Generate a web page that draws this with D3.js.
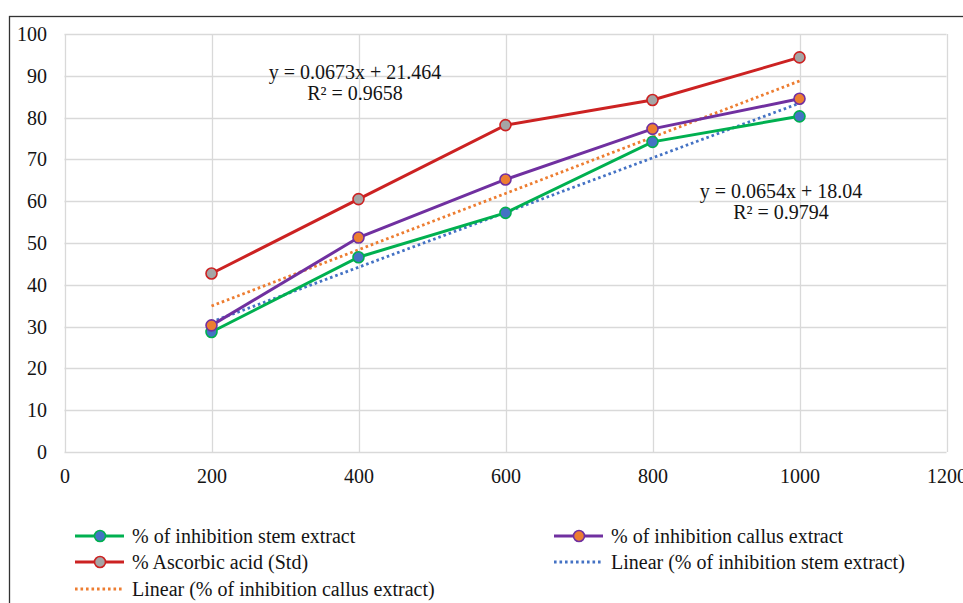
<!DOCTYPE html>
<html>
<head>
<meta charset="utf-8">
<script src="https://cdn.jsdelivr.net/npm/d3@7"></script>
<style>
  body { margin: 0; background: #fff; }
  svg { font-family: "Liberation Serif", "Times New Roman", serif; }
</style>
</head>
<body>
<figure style="margin:0"></figure>
<script>
const width = 963
const height = 603

// data
const concentrations = [200, 400, 600, 800, 1000]
const stemValues = [28.7, 46.6, 57.2, 74.2, 80.3]
const callusValues = [30.3, 51.3, 65.2, 77.3, 84.5]
const ascorbicValues = [42.7, 60.5, 78.2, 84.2, 94.4]
const xTicks = [0, 200, 400, 600, 800, 1000, 1200]
const yTicks = [0, 10, 20, 30, 40, 50, 60, 70, 80, 90, 100]
const stemFit = { slope: 0.0654, intercept: 18.04, label: 'y = 0.0654x + 18.04', r2: 'R² = 0.9794' }
const callusFit = { slope: 0.0673, intercept: 21.464, label: 'y = 0.0673x + 21.464', r2: 'R² = 0.9658' }

const fontSize = 20
const textColor = '#141414'

const svg = d3.select('figure').append('svg')
  .attr('width', width)
  .attr('height', height)

// outer frame (only top and left edges are inside the picture)
svg.append('rect')
  .attr('x', 9.5).attr('y', 16.5)
  .attr('width', 1000).attr('height', 700)
  .attr('fill', 'none')
  .attr('stroke', '#333')
  .attr('stroke-width', 1.3)

const x = d3.scaleLinear().domain([0, 1200]).range([64.5, 946.5])
const y = d3.scaleLinear().domain([0, 100]).range([452, 34])

// grid
svg.append('g').selectAll('line').data(yTicks).join('line')
  .attr('x1', x(0)).attr('x2', x(1200))
  .attr('y1', d => Math.round(y(d)) + 0.5).attr('y2', d => Math.round(y(d)) + 0.5)
  .attr('stroke', '#d9d9d9').attr('stroke-width', 1.3)
svg.append('g').selectAll('line').data(xTicks).join('line')
  .attr('x1', d => Math.round(x(d)) + 0.5).attr('x2', d => Math.round(x(d)) + 0.5)
  .attr('y1', y(0)).attr('y2', y(100))
  .attr('stroke', '#d9d9d9').attr('stroke-width', 1.3)

// axes labels
const yAxis = svg.append('g')
  .attr('transform', `translate(${x(0) - 17.5},0)`)
  .call(d3.axisLeft(y).tickValues(yTicks).tickFormat(d3.format('d')).tickSize(0).tickPadding(0))
  .attr('font-family', 'Liberation Serif').attr('font-size', fontSize)
yAxis.select('.domain').remove()
yAxis.selectAll('text').attr('fill', textColor)

const xAxis = svg.append('g')
  .attr('transform', `translate(0,${y(0) + 17})`)
  .call(d3.axisBottom(x).tickValues(xTicks).tickFormat(d3.format('d')).tickSize(0).tickPadding(0))
  .attr('font-family', 'Liberation Serif').attr('font-size', fontSize)
xAxis.select('.domain').remove()
xAxis.selectAll('text').attr('fill', textColor)

// trendlines
const trends = [
  { fit: stemFit, color: '#4472c4' },
  { fit: callusFit, color: '#ed7d31' }
]
svg.selectAll('.trend').data(trends).join('line')
  .attr('class', 'trend')
  .attr('x1', x(concentrations[0]))
  .attr('x2', x(concentrations[concentrations.length - 1]))
  .attr('y1', d => y(d.fit.slope * concentrations[0] + d.fit.intercept))
  .attr('y2', d => y(d.fit.slope * concentrations[concentrations.length - 1] + d.fit.intercept))
  .attr('stroke', d => d.color)
  .attr('stroke-width', 2.8)
  .attr('stroke-dasharray', '2.6,2.9')

// series
const series = [
  { name: '% of inhibition stem extract', values: stemValues, line: '#00b050', fill: '#4472c4' },
  { name: '% of inhibition callus extract', values: callusValues, line: '#7030a0', fill: '#ed7d31' },
  { name: '% Ascorbic acid (Std)', values: ascorbicValues, line: '#cc2222', fill: '#a5a5a5' }
]
const line = d3.line()
  .x((d, i) => x(concentrations[i]))
  .y(d => y(d))

svg.selectAll('.series').data(series).join('path')
  .attr('class', 'series')
  .attr('d', d => line(d.values))
  .attr('fill', 'none')
  .attr('stroke', d => d.line)
  .attr('stroke-width', 3)

svg.selectAll('.dots').data(series).join('g')
  .attr('class', 'dots')
  .selectAll('circle')
  .data(d => d.values.map((v, i) => ({ v, i, s: d })))
  .join('circle')
    .attr('cx', d => x(concentrations[d.i]))
    .attr('cy', d => y(d.v))
    .attr('r', 5.5)
    .attr('fill', d => d.s.fill)
    .attr('stroke', d => d.s.line)
    .attr('stroke-width', 1.6)

// equation labels
const eqs = [
  { fit: callusFit, cx: 355, cy: 72 },
  { fit: stemFit, cx: 781, cy: 191 }
]
eqs.forEach(e => {
  svg.append('text')
    .attr('x', e.cx).attr('y', e.cy)
    .attr('text-anchor', 'middle').attr('dominant-baseline', 'central')
    .attr('font-size', fontSize).attr('fill', textColor)
    .text(e.fit.label)
  svg.append('text')
    .attr('x', e.cx).attr('y', e.cy + 21)
    .attr('text-anchor', 'middle').attr('dominant-baseline', 'central')
    .attr('font-size', fontSize).attr('fill', textColor)
    .text(e.fit.r2)
})

// legend
const legendItems = [
  { name: series[0].name, kind: 'series', s: series[0], lx: 75, ly: 536 },
  { name: series[1].name, kind: 'series', s: series[1], lx: 554, ly: 536 },
  { name: series[2].name, kind: 'series', s: series[2], lx: 75, ly: 562 },
  { name: 'Linear (% of inhibition stem extract)', kind: 'trend', color: '#4472c4', lx: 554, ly: 562 },
  { name: 'Linear (% of inhibition callus extract)', kind: 'trend', color: '#ed7d31', lx: 75, ly: 589 }
]
const legend = svg.append('g')
const item = legend.selectAll('g').data(legendItems).join('g')
  .attr('transform', d => `translate(${d.lx},${d.ly})`)
item.append('line')
  .attr('x1', 0).attr('x2', 49).attr('y1', 0).attr('y2', 0)
  .attr('stroke', d => d.kind === 'series' ? d.s.line : d.color)
  .attr('stroke-width', d => d.kind === 'series' ? 3 : 2.8)
  .attr('stroke-dasharray', d => d.kind === 'series' ? null : '2.6,2.9')
item.filter(d => d.kind === 'series').append('circle')
  .attr('cx', 25).attr('cy', 0).attr('r', 5.5)
  .attr('fill', d => d.s.fill)
  .attr('stroke', d => d.s.line)
  .attr('stroke-width', 1.6)
item.append('text')
  .attr('x', 57).attr('y', 0)
  .attr('dominant-baseline', 'central')
  .attr('font-size', fontSize).attr('fill', textColor)
  .text(d => d.name)
</script>
</body>
</html>
